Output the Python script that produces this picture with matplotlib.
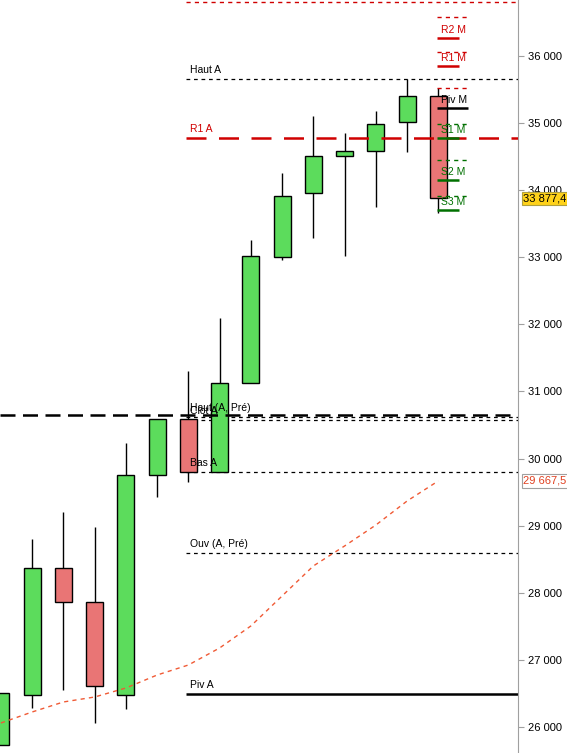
import numpy as np
import matplotlib.pyplot as plt
from matplotlib.ticker import FuncFormatter

plt.rcParams['font.family'] = ['Liberation Sans', 'DejaVu Sans']

# OHLC per candle (index 0 is the cut-off one at the left edge)
opens  = [25730, 26477, 28370, 27863, 26477, 29756, 30590, 29800, 31127, 33004, 33958, 34510, 34584, 35016, 35404]
closes = [26507, 28370, 27863, 26611, 29756, 30590, 29800, 31127, 33019, 33913, 34510, 34584, 34987, 35404, 33877.4]
highs  = [26507, 28802, 29204, 28980, 30232, 30590, 31306, 32095, 33258, 34256, 35106, 34852, 35180, 35657, 35523]
lows   = [25730, 26283, 26552, 26060, 26268, 29427, 29651, 30575, 31127, 32960, 33288, 33019, 33750, 34569, 33660]

ma = [26060, 26224, 26373, 26447, 26581, 26775, 26924, 27178, 27506, 27953, 28400, 28698, 29010, 29368, 29667.5]

# yearly levels
year_levels = [36805, 35657, 34778, 30620, 30575, 29800, 28593, 26492]
year_labels = ["", "Haut A", "R1 A", "Haut (A, Pré)", "Clot A", "Bas A", "Ouv (A, Pré)", "Piv A"]

# monthly pivots
m_res_dash = [36581, 36060, 35523]
m_res = [36268, 35851]
m_res_labels = ["R2 M", "R1 M"]
m_piv = 35225
m_sup_dash = [34987, 34450, 33913]
m_sup = [34778, 34152, 33705]
m_sup_labels = ["S1 M", "S2 M", "S3 M"]

ticks = [26000, 27000, 28000, 29000, 30000, 31000, 32000, 33000, 34000, 35000, 36000]
last_price = 33877.4
ma_last = 29667.5
big_dash = 30650

fig = plt.figure(figsize=(5.67, 7.53), dpi=100)
ax = fig.add_axes([0, 0, 518 / 567, 1])

green = "#5cdc5c"
red = "#e97575"
w = 0.54
for i in range(len(opens)):
    o, c, h, l = opens[i], closes[i], highs[i], lows[i]
    ax.vlines(i, l, h, color="black", lw=1, zorder=2)
    col = green if c >= o else red
    ax.bar(i, abs(c - o), bottom=min(o, c), width=w, color=col,
           edgecolor="black", linewidth=1, zorder=3)

x = np.arange(len(ma))
ax.plot(x, ma, color="#f05a35", lw=1, ls=(0, (3, 3)), zorder=4)

# long black dashed line across whole chart
ax.axhline(big_dash, color="black", lw=1.8, ls=(0, (6, 3)), zorder=5)

x0 = 5.92
xend = 16.6
ax.hlines(year_levels[0], x0, xend, color="#d00000", lw=1, ls=(0, (3, 3)), zorder=1)
ax.hlines(year_levels[1], x0, xend, color="black", lw=0.9, ls=(0, (3, 3)), zorder=1)
ax.hlines(year_levels[2], x0, xend, color="#d00000", lw=1.8, ls=(0, (8, 5)), zorder=5)
for v in year_levels[3:7]:
    ax.hlines(v, x0, xend, color="black", lw=0.9, ls=(0, (3, 3)), zorder=1)
ax.hlines(year_levels[7], x0, xend, color="black", lw=1.8, zorder=1)

lx = 6.05
for lvl, lab in zip(year_levels, year_labels):
    if not lab:
        continue
    col = "#d00000" if lab == "R1 A" else "black"
    ax.text(lx, lvl + 60, lab, fontsize=7.5, color=col, va="bottom", ha="left", zorder=6)

# monthly pivots
mx0, mx1, mx2 = 13.97, 14.92, 14.65
for v in m_res_dash:
    ax.hlines(v, mx0, mx1, color="#d00000", lw=1, ls=(0, (3, 3)), zorder=6)
for v, lab in zip(m_res, m_res_labels):
    ax.hlines(v, mx0, mx2, color="#d00000", lw=1.8, zorder=6)
    ax.text(mx0 + 0.1, v + 40, lab, fontsize=7.5, color="#d00000", va="bottom", zorder=6)
ax.hlines(m_piv, mx0, 14.95, color="black", lw=1.8, zorder=6)
ax.text(mx0 + 0.1, m_piv + 40, "Piv M", fontsize=7.5, color="black", va="bottom", zorder=6)
for v in m_sup_dash:
    ax.hlines(v, mx0, mx1, color="#007000", lw=1, ls=(0, (3, 3)), zorder=6)
for v, lab in zip(m_sup, m_sup_labels):
    ax.hlines(v, mx0, mx2, color="#007000", lw=1.8, zorder=6)
    ax.text(mx0 + 0.1, v + 40, lab, fontsize=7.5, color="#007000", va="bottom", zorder=6)

ax.set_xlim(-0.03, 16.55)
ax.set_ylim(36000 - 697 / 0.0671, 36000 + 56 / 0.0671)
ax.set_xticks([])
ax.yaxis.tick_right()
ax.set_yticks(ticks)
ax.yaxis.set_major_formatter(FuncFormatter(lambda v, p: f"{int(v):,}".replace(",", " ")))
ax.tick_params(axis="y", length=4, color="#a0a0a0", labelsize=8, pad=3)
for s in ["top", "left", "bottom"]:
    ax.spines[s].set_visible(False)
ax.spines["right"].set_color("#a0a0a0")

tr = ax.get_yaxis_transform()
ax.text(1.01, last_price, "33 877,4", transform=tr, fontsize=8, va="center", ha="left",
        bbox=dict(boxstyle="square,pad=0.15", fc="#ffd21a", ec="#b0a040", lw=0.8), zorder=10, clip_on=False)
ax.text(1.01, ma_last, "29 667,5", transform=tr, fontsize=8, color="#e04020", va="center", ha="left",
        bbox=dict(boxstyle="square,pad=0.15", fc="white", ec="#a0a0a0", lw=0.8), zorder=10, clip_on=False)

fig.savefig("out.png", dpi=100)
